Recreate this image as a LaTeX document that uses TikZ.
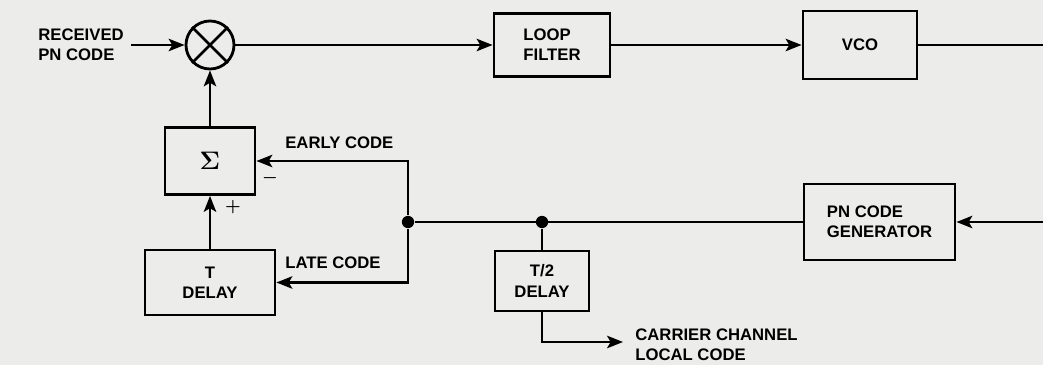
\documentclass[tikz,border=0pt]{standalone}
\usepackage{fontspec}
\setmainfont{Liberation Sans}
\usetikzlibrary{arrows.meta}
\definecolor{paper}{RGB}{236,236,234}

\begin{document}
\begin{tikzpicture}[
    blk/.style={draw, line width=1.6pt, fill=paper, inner sep=2pt,
      font=\fontsize{9.5}{11.5}\selectfont\bfseries},
    lbl/.style={font=\fontsize{9.5}{11.5}\selectfont\bfseries, align=left, inner sep=0pt},
    wire/.style={line width=1.6pt},
    arr/.style={wire, -{Stealth[length=9pt,width=7pt,inset=2pt]}},
    dot/.style={circle, fill, inner sep=0pt, minimum size=7pt}]
  \fill[paper] (0,0) rectangle (20.86,7.3);
  \useasboundingbox (0,0) rectangle (20.86,7.3);

  % top row
  \node[lbl, anchor=west] (rx) at (0.76,6.4) {RECEIVED\\PN CODE};
  \node[draw, line width=1.6pt, circle, minimum size=0.96cm] (mix) at (4.2,6.4) {};
  \draw[wire] (mix.north west) -- (mix.south east)
    (mix.north east) -- (mix.south west);
  \node[blk, align=left, minimum width=2.32cm, minimum height=1.26cm] (lf) at (11.04,6.4) {LOOP\\FILTER};
  \node[blk, minimum width=2.28cm, minimum height=1.36cm] (vco) at (17.2,6.4) {VCO};
  \coordinate (rtop) at (20.86,6.4);
  \coordinate (rbot) at (20.86,2.86);

  \draw[arr, shorten <=4pt] (rx.east) -- (mix.west);
  \draw[arr] (mix.east) -- (lf.west);
  \draw[arr] (lf.east) -- (vco.west);
  \draw[wire] (vco.east) -- (rtop);

  % code generator and delays
  \node[blk, align=left, minimum width=3.02cm, minimum height=1.52cm] (pn) at (17.59,2.86) {PN CODE\\GENERATOR};
  \node[dot] (ja) at (8.16,2.86) {};
  \node[dot] (jb) at (10.84,2.86) {};
  \node[blk, align=center, minimum width=1.88cm, minimum height=1.2cm] (thalf) at (10.84,1.68) {T/2\\DELAY};
  \coordinate (cc) at (12.46,0.46);
  \node[lbl, anchor=north west] (cctxt) at (12.7,0.74) {CARRIER CHANNEL\\LOCAL CODE};

  \draw[arr] (rbot) -- (pn.east);
  \draw[wire] (pn.west) -- (ja);
  \draw[wire] (jb) -- (thalf.north);
  \draw[arr] (thalf.south) |- (cc);

  % early / late branch
  \node[blk, minimum width=1.8cm, minimum height=1.34cm, font=\Large\boldmath] (sum) at (4.2,4.08) {$\Sigma$};
  \node[blk, align=center, minimum width=2.6cm, minimum height=1.3cm] (tdel) at (4.2,1.65) {T\\DELAY};
  \node[lbl, anchor=west] (early) at (5.7,4.44) {EARLY CODE};
  \node[lbl, anchor=west] (late) at (5.7,2.04) {LATE CODE};
  \node[inner sep=0pt, font=\boldmath] (minus) at (5.4,3.74) {$-$};
  \node[inner sep=0pt, font=\boldmath] (plus) at (4.66,3.16) {$+$};

  \draw[arr] (sum.north) -- (mix.south);
  \draw[arr] (tdel.north) -- (sum.south);
  \draw[arr] (ja) |- (sum.east);
  \draw[arr] (ja) |- (tdel.east);
\end{tikzpicture}
\end{document}
